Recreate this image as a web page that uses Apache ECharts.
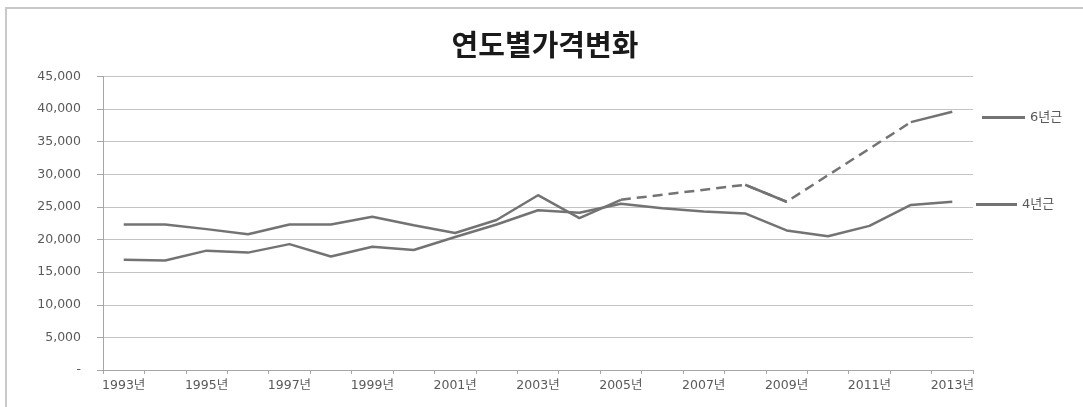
<!DOCTYPE html>
<html>
<head>
<meta charset="utf-8">
<script src="https://cdn.jsdelivr.net/npm/echarts@6/dist/echarts.min.js"></script>
<style>
  html, body { margin: 0; padding: 0; background: #fff; overflow: hidden; width: 1083px; height: 407px; }
  #frame { position: absolute; left: 5px; top: 7px; width: 1090px; height: 410px;
           border-top: 2px solid #c9c9c9; border-left: 2px solid #c9c9c9; }
  #main { position: absolute; left: 0; top: 0; width: 1083px; height: 407px; }
</style>
</head>
<body>
<div id="frame"></div>
<div id="main"></div>
<script>
var years = ['1993년','1994년','1995년','1996년','1997년','1998년','1999년','2000년','2001년','2002년',
             '2003년','2004년','2005년','2006년','2007년','2008년','2009년','2010년','2011년','2012년','2013년'];
// 6년근: 비어있는 해는 점선으로 이어짐
var sixYear = [22300, 22300, 21600, 20800, 22300, 22300, 23500, 22200, 21000, 23000,
               26800, 23300, 26100, null, null, 28400, 25800, null, null, 38000, 39600];
var fourYear = [16900, 16800, 18300, 18000, 19300, 17400, 18900, 18400, 20400, 22300,
                24500, 24100, 25500, 24800, 24300, 24000, 21400, 20500, 22100, 25300, 25800];

// 빈 구간 양끝 값만 남긴 배열 (점선용)
var sixGap = sixYear.map(function (v, i) {
  if (v == null) return null;
  var prevNull = i > 0 && sixYear[i - 1] == null;
  var nextNull = i < sixYear.length - 1 && sixYear[i + 1] == null;
  return (prevNull || nextNull) ? v : null;
});

var lineColor = '#737373';
var textColor = '#595959';
var numFont = 'DejaVu Sans, Noto Sans CJK KR';

var myChart = echarts.init(document.getElementById('main'));
var option = {
  animation: false,
  title: {
    text: '연도별가격변화',
    left: 540, textAlign: 'center', top: 25,
    textStyle: { fontFamily: 'Noto Sans CJK KR', fontWeight: 'bold', fontSize: 29, color: '#1a1a1a' }
  },
  legend: [{
    data: ['6년근'], left: 977, top: 106, icon: 'rect', itemWidth: 43, itemHeight: 3, itemGap: 4,
    selectedMode: false,
    textStyle: { fontFamily: numFont, fontSize: 13, color: textColor }
  }, {
    data: ['4년근'], left: 971, top: 193, icon: 'rect', itemWidth: 41, itemHeight: 3, itemGap: 4,
    selectedMode: false,
    textStyle: { fontFamily: numFont, fontSize: 13, color: textColor }
  }],
  grid: { left: 103, right: 110, top: 76.5, bottom: 37 },
  xAxis: {
    type: 'category',
    data: years,
    boundaryGap: true,
    axisLine: { lineStyle: { color: '#a6a6a6', width: 1 } },
    axisTick: { show: true, interval: 0, length: 4, lineStyle: { color: '#a6a6a6' } },
    axisLabel: { interval: 1, margin: 9, fontFamily: numFont, fontSize: 12.5, color: textColor }
  },
  yAxis: {
    type: 'value',
    min: 0, max: 45000, interval: 5000,
    axisLine: { show: true, lineStyle: { color: '#a6a6a6', width: 1 } },
    axisTick: { show: true, length: 6, lineStyle: { color: '#a6a6a6' } },
    splitLine: { lineStyle: { color: '#c4c4c4', width: 1 } },
    axisLabel: {
      margin: 22, fontFamily: numFont, fontSize: 12.5, color: textColor,
      formatter: function (v) { return v === 0 ? '-' : v.toLocaleString('en-US'); }
    }
  },
  series: [{
    name: '6년근', type: 'line', data: sixYear, connectNulls: false,
    showSymbol: false, symbol: 'none',
    itemStyle: { color: lineColor },
    lineStyle: { color: lineColor, width: 2.5 }
  }, {
    name: '6년근 점선', type: 'line', data: sixGap, connectNulls: true,
    showSymbol: false, symbol: 'none',
    itemStyle: { color: lineColor },
    lineStyle: { color: lineColor, width: 2.5, type: [10, 6] }
  }, {
    name: '4년근', type: 'line', data: fourYear,
    showSymbol: false, symbol: 'none',
    itemStyle: { color: lineColor },
    lineStyle: { color: lineColor, width: 2.5 }
  }]
};
myChart.setOption(option);
</script>
</body>
</html>
